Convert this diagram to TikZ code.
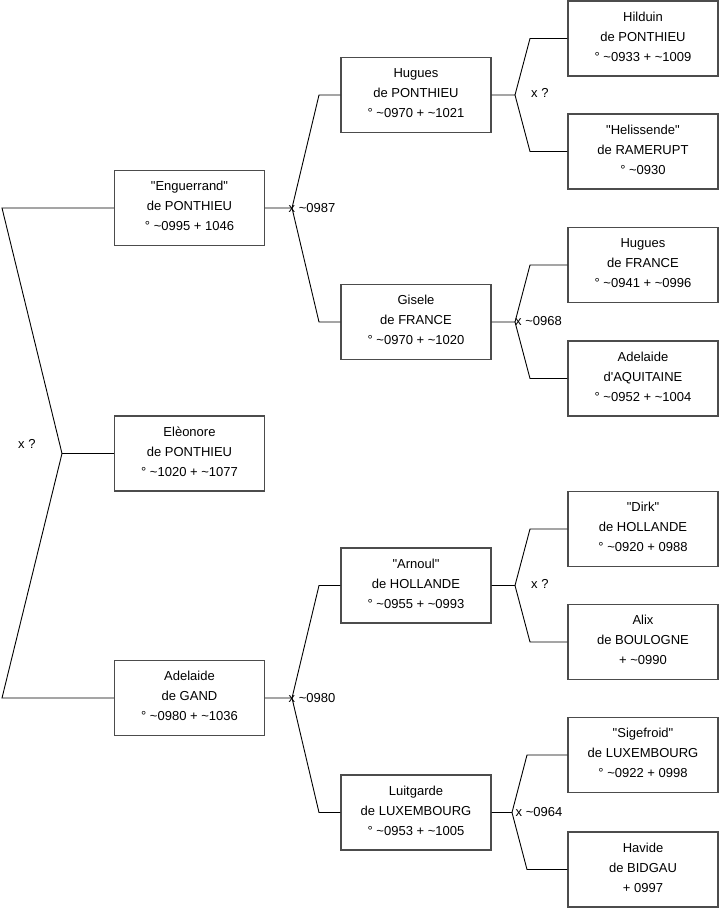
\documentclass[tikz,border=0pt]{standalone}
\usepackage{fontspec}
\newfontfamily\boxfont{Liberation Sans}
\begin{document}
\begin{tikzpicture}[x=1pt,y=-1pt,
  person/.style={draw=black!70,line width=1.1pt,fill=white,minimum width=150pt,minimum height=75pt,inner sep=0pt,align=center,font=\boxfont\fontsize{13}{20}\selectfont,execute at end node={\rule[-4pt]{0pt}{4pt}}},
  link/.style={draw=black,line width=0.9pt},
  lbl/.style={anchor=base west,inner sep=0pt,font=\boxfont\fontsize{13}{16}\selectfont}]
\useasboundingbox (0,0) rectangle (719,908);
\newcommand{\tl}{\textasciitilde}
% level 1
\node[person] (eng) at (189.5,208) {"Enguerrand"\\de PONTHIEU\\° \tl0995 + 1046};
\node[person] (eleo) at (189.5,453.5) {Elèonore\\de PONTHIEU\\° \tl1020 + \tl1077};
\node[person] (gand) at (189.5,698) {Adelaide\\de GAND\\° \tl0980 + \tl1036};
% level 2
\node[person] (hug) at (416,95) {Hugues\\de PONTHIEU\\° \tl0970 + \tl1021};
\node[person] (gis) at (416,322) {Gisele\\de FRANCE\\° \tl0970 + \tl1020};
\node[person] (arn) at (416,585.5) {"Arnoul"\\de HOLLANDE\\° \tl0955 + \tl0993};
\node[person] (lui) at (416,812.5) {Luitgarde\\de LUXEMBOURG\\° \tl0953 + \tl1005};
% level 3
\node[person] (hil) at (643,38.5) {Hilduin\\de PONTHIEU\\° \tl0933 + \tl1009};
\node[person] (hel) at (643,151.5) {"Helissende"\\de RAMERUPT\\° \tl0930};
\node[person] (hfr) at (643,265) {Hugues\\de FRANCE\\° \tl0941 + \tl0996};
\node[person] (aqu) at (643,378.5) {Adelaide\\d'AQUITAINE\\° \tl0952 + \tl1004};
\node[person] (dirk) at (643,529) {"Dirk"\\de HOLLANDE\\° \tl0920 + 0988};
\node[person] (alix) at (643,642) {Alix\\de BOULOGNE\\+ \tl0990};
\node[person] (sig) at (643,755) {"Sigefroid"\\de LUXEMBOURG\\° \tl0922 + 0998};
\node[person] (hav) at (643,869.5) {Havide\\de BIDGAU\\+ 0997};
% junctions and bends
\coordinate (j0) at (62,453.5);
\coordinate (j0a) at (2,208);
\coordinate (j0b) at (2,698);
\coordinate (jE) at (292,208);
\coordinate (jEa) at (319,95);
\coordinate (jEb) at (319,322);
\coordinate (jG) at (292,698);
\coordinate (jGa) at (319,585.5);
\coordinate (jGb) at (319,812.5);
\coordinate (jH) at (515,95);
\coordinate (jHa) at (530,38.5);
\coordinate (jHb) at (530,151.5);
\coordinate (jS) at (515,322);
\coordinate (jSa) at (530,265);
\coordinate (jSb) at (530,378.5);
\coordinate (jA) at (515,585.5);
\coordinate (jAa) at (530,529);
\coordinate (jAb) at (530,642);
\coordinate (jL) at (512,812.5);
\coordinate (jLa) at (527,755);
\coordinate (jLb) at (527,869.5);
% connectors
\draw[link] (eleo.west) -- (j0) -- (j0a) -- (eng.west);
\draw[link] (j0) -- (j0b) -- (gand.west);
\draw[link] (eng.east) -- (jE) -- (jEa) -- (hug.west);
\draw[link] (jE) -- (jEb) -- (gis.west);
\draw[link] (gand.east) -- (jG) -- (jGa) -- (arn.west);
\draw[link] (jG) -- (jGb) -- (lui.west);
\draw[link] (hug.east) -- (jH) -- (jHa) -- (hil.west);
\draw[link] (jH) -- (jHb) -- (hel.west);
\draw[link] (gis.east) -- (jS) -- (jSa) -- (hfr.west);
\draw[link] (jS) -- (jSb) -- (aqu.west);
\draw[link] (arn.east) -- (jA) -- (jAa) -- (dirk.west);
\draw[link] (jA) -- (jAb) -- (alix.west);
\draw[link] (lui.east) -- (jL) -- (jLa) -- (sig.west);
\draw[link] (jL) -- (jLb) -- (hav.west);
% labels
\node[lbl] (l0) at (18,448.5) {x ?};
\node[lbl] (lE) at (288.5,212) {x \tl0987};
\node[lbl] (lG) at (288.5,702) {x \tl0980};
\node[lbl] (lH) at (531,97.5) {x ?};
\node[lbl] (lS) at (515,325.5) {x \tl0968};
\node[lbl] (lA) at (531,588) {x ?};
\node[lbl] (lL) at (515.5,816) {x \tl0964};
\end{tikzpicture}
\end{document}
